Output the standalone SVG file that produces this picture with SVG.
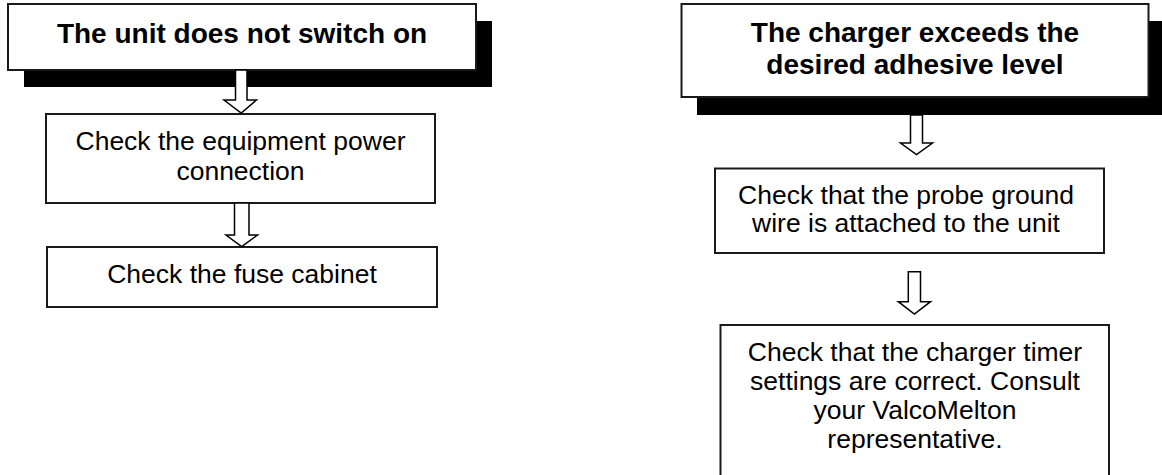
<svg xmlns="http://www.w3.org/2000/svg" width="1162" height="475" viewBox="0 0 1162 475">
<style>
.box{fill:#fff;stroke:#1a1a1a;stroke-width:2}
.shadow{fill:#000}
.title{font-family:"Liberation Sans",Arial,sans-serif;font-weight:bold;font-size:28px;fill:#000;text-anchor:middle}
.body{font-family:"Liberation Sans",Arial,sans-serif;font-size:26.5px;fill:#000;text-anchor:middle}
.arrow{fill:#fff;stroke:#000;stroke-width:1.5;stroke-linejoin:miter}
</style>
<rect width="1162" height="475" fill="#fff"/>
<g id="node-unit-off">
<rect class="shadow" x="24" y="21" width="468" height="66"/>
<rect class="box" x="8" y="4" width="468" height="66"/>
<text class="title" x="242" y="43">The unit does not switch on</text>
</g>
<g id="node-power-connection">
<rect class="box" x="46" y="114" width="389" height="89"/>
<text class="body" x="240.5" y="150">Check the equipment power</text>
<text class="body" x="240.5" y="180">connection</text>
</g>
<g id="node-fuse-cabinet">
<rect class="box" x="47" y="247" width="390" height="60"/>
<text class="body" x="242" y="283">Check the fuse cabinet</text>
</g>
<g id="node-charger-exceeds">
<rect class="shadow" x="697" y="21" width="470" height="94"/>
<rect class="box" x="681.5" y="4" width="467" height="93"/>
<text class="title" x="915" y="42">The charger exceeds the</text>
<text class="title" x="915" y="74">desired adhesive level</text>
</g>
<g id="node-probe-ground">
<rect class="box" x="715" y="168.5" width="389" height="84.5"/>
<text class="body" x="906" y="204">Check that the probe ground</text>
<text class="body" x="906" y="232">wire is attached to the unit</text>
</g>
<g id="node-timer-settings">
<rect class="box" x="720.5" y="325" width="388.5" height="160"/>
<text class="body" x="915" y="361">Check that the charger timer</text>
<text class="body" x="915" y="390">settings are correct. Consult</text>
<text class="body" x="915" y="419">your ValcoMelton</text>
<text class="body" x="915" y="448">representative.</text>
</g>
<g id="connectors">
<polygon class="arrow" points="235.5,70 247,70 247,100 256.5,100 241.2,113 224,100 235.5,100"/>
<polygon class="arrow" points="234.5,203 249,203 249,235 257.5,235 241.7,246.5 226,235 234.5,235"/>
<polygon class="arrow" points="910.5,115 922.5,115 922.5,143 932.5,143 916.5,154.5 900.5,143 910.5,143"/>
<polygon class="arrow" points="908.3,271.7 920.5,271.7 920.5,301.7 930.5,301.7 914.4,314 898.3,301.7 908.3,301.7"/>
</g>
</svg>
